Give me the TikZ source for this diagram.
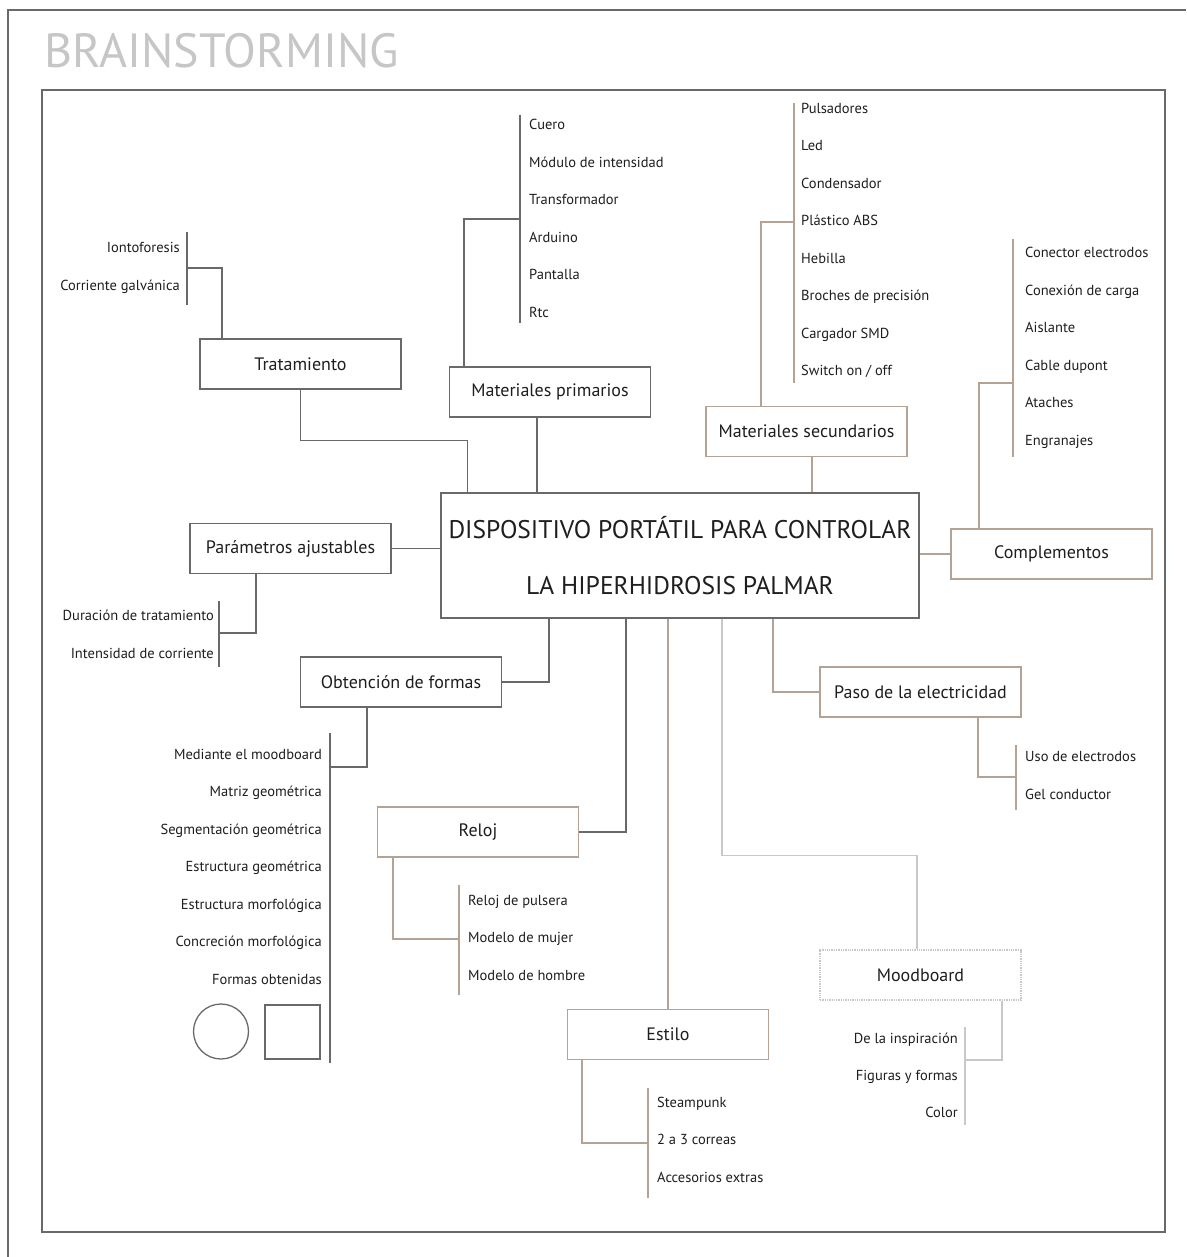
\documentclass[tikz,border=0pt]{standalone}
\usepackage{fontspec}
\setmainfont{PT Sans}
\usepackage{tikz}
\usetikzlibrary{calc}
\definecolor{gris}{RGB}{105,105,105}
\definecolor{beige}{RGB}{180,162,148}
\definecolor{claro}{RGB}{200,200,200}
\definecolor{tinta}{RGB}{30,30,30}
\tikzset{
  caja/.style={draw=gris, line width=1.3pt, minimum width=201pt, minimum height=50pt,
    inner sep=0pt, text=tinta, font=\fontsize{18}{20}\selectfont},
  item/.style={inner sep=0pt, text=tinta, text height=11pt, text depth=3.5pt, font=\fontsize{14.5}{16}\selectfont},
  rama/.style={draw=gris, line width=1.3pt},
  barra/.style={draw=gris, line width=1.3pt},
}

\begin{document}
\begin{tikzpicture}[x=1pt, y=-1pt]
		\useasboundingbox (0,0) rectangle (1186,1257);

		% marcos
		\draw[gris, line width=1.5pt] (8,1257) -- (8,10) -- (1186,10);
		\draw[gris, line width=2pt] (42,90) rectangle (1165,1232);
		\node[anchor=base west, inner sep=0pt, text=gray!45, font=\fontsize{48}{50}\selectfont] (titulo) at (44,68) {BRAINSTORMING};

		% centro
		\node[caja, minimum width=478pt, minimum height=125pt, align=center,
			font=\fontsize{25.5}{56}\selectfont] (centro) at (680,555.5)
			{DISPOSITIVO PORTÁTIL PARA CONTROLAR\\LA HIPERHIDROSIS PALMAR};

		% ramas
		\node[caja] (trat) at (300.5,364) {Tratamiento};
		\node[caja] (matp) at (550,392) {Materiales primarios};
		\node[caja, draw=beige] (mats) at (806.5,431.5) {Materiales secundarios};
		\node[caja, draw=beige] (compl) at (1051.5,554) {Complementos};
		\node[caja] (param) at (290.5,548.5) {Parámetros ajustables};
		\node[caja] (obt) at (401,682) {Obtención de formas};
		\node[caja, draw=beige] (reloj) at (478,832) {Reloj};
		\node[caja, draw=beige] (estilo) at (668,1034.5) {Estilo};
		\node[caja, draw=claro, densely dotted] (mood) at (920.5,975) {Moodboard};
		\node[caja, draw=beige] (paso) at (920.5,692) {Paso de la electricidad};

		\draw[rama] (trat.south) -- ++(0,51) -| ([xshift=27pt]centro.north west);
		\draw[rama] ([xshift=-13pt]matp.south) -- ([xshift=-13pt]matp.south |- centro.north);
		\draw[rama, beige] ([xshift=5.5pt]mats.south) -- ([xshift=5.5pt]mats.south |- centro.north);
		\draw[rama, beige] (centro.east |- compl.west) -- (compl.west);
		\draw[rama] (param.east) -- (param.east -| centro.west);
		\draw[rama] (obt.east) -| ([xshift=-131pt]centro.south);
		\draw[rama] (reloj.east) -| ([xshift=-54pt]centro.south);
		\draw[rama, beige] (estilo.north) -- (estilo.north |- centro.south);
		\draw[rama, claro] ([xshift=42pt]centro.south) |- ([xshift=-3.5pt,yshift=94pt]mood.north) -- ([xshift=-3.5pt]mood.north);
		\draw[rama, beige] ([xshift=93pt]centro.south) |- (paso.west);

		% Tratamiento
		\draw[barra] (187,232) -- (187,305);
		\coordinate (jTrat) at (187,268);
		\draw[rama] ([xshift=-78.5pt]trat.north) |- (jTrat);
		\node[item, anchor=east] (ionto) at (180,249) {Iontoforesis};
		\node[item, anchor=east] (galv) at (180,287) {Corriente galvánica};

		% Materiales primarios
		\draw[barra] (520,115) -- (520,323);
		\coordinate (jMatp) at (520,219);
		\draw[rama] ([xshift=-86pt]matp.north) |- (jMatp);
		\node[item, anchor=west] (cuero) at (529,126) {Cuero};
		\node[item, anchor=west] (modulo) at (529,164) {Módulo de intensidad};
		\node[item, anchor=west] (trafo) at (529,201) {Transformador};
		\node[item, anchor=west] (ardu) at (529,239) {Arduino};
		\node[item, anchor=west] (pant) at (529,276) {Pantalla};
		\node[item, anchor=west] (rtc) at (529,314) {Rtc};

		% Materiales secundarios
		\draw[barra, beige] (794,103) -- (794,383);
		\coordinate (jMats) at (794,222);
		\draw[rama, beige] ([xshift=-45.5pt]mats.north) |- (jMats);
		\node[item, anchor=west] (puls) at (801,110) {Pulsadores};
		\node[item, anchor=west] (led) at (801,147) {Led};
		\node[item, anchor=west] (cond) at (801,185) {Condensador};
		\node[item, anchor=west] (abs) at (801,222) {Plástico ABS};
		\node[item, anchor=west] (hebi) at (801,260) {Hebilla};
		\node[item, anchor=west] (broch) at (801,297) {Broches de precisión};
		\node[item, anchor=west] (carg) at (801,335) {Cargador SMD};
		\node[item, anchor=west] (switch) at (801,372) {Switch on / off};

		% Complementos
		\draw[barra, beige] (1013,239) -- (1013,457);
		\coordinate (jCompl) at (1013,383);
		\draw[rama, beige] ([xshift=-72.5pt]compl.north) |- (jCompl);
		\node[item, anchor=west] (conec) at (1025,254) {Conector electrodos};
		\node[item, anchor=west] (carga) at (1025,292) {Conexión de carga};
		\node[item, anchor=west] (aisl) at (1025,329) {Aislante};
		\node[item, anchor=west] (dupont) at (1025,367) {Cable dupont};
		\node[item, anchor=west] (atach) at (1025,404) {Ataches};
		\node[item, anchor=west] (engr) at (1025,442) {Engranajes};

		% Parametros ajustables
		\draw[barra] (219,601) -- (219,667);
		\coordinate (jParam) at (219,633);
		\draw[rama] ([xshift=-34.5pt]param.south) |- (jParam);
		\node[item, anchor=east] (durac) at (214,617) {Duración de tratamiento};
		\node[item, anchor=east] (inten) at (214,655) {Intensidad de corriente};

		% Obtencion de formas
		\draw[barra] (330,733) -- (330,1063);
		\coordinate (jObt) at (330,767);
		\draw[rama] ([xshift=-34pt]obt.south) |- (jObt);
		\node[item, anchor=east] (mediante) at (322,756) {Mediante el moodboard};
		\node[item, anchor=east] (matriz) at (322,793) {Matriz geométrica};
		\node[item, anchor=east] (segm) at (322,831) {Segmentación geométrica};
		\node[item, anchor=east] (estrg) at (322,868) {Estructura geométrica};
		\node[item, anchor=east] (estrm) at (322,906) {Estructura morfológica};
		\node[item, anchor=east] (concr) at (322,943) {Concreción morfológica};
		\node[item, anchor=east] (formas) at (322,981) {Formas obtenidas};
		\draw[gris, line width=1.3pt] (221,1031.5) circle (27.5pt);
		\draw[gris, line width=1.3pt] (265,1005) rectangle (320,1059);

		% Reloj
		\draw[barra, beige] (459,885) -- (459,995);
		\coordinate (jReloj) at (459,939);
		\draw[rama, beige] ([xshift=-85pt]reloj.south) |- (jReloj);
		\node[item, anchor=west] (pulsera) at (468,902) {Reloj de pulsera};
		\node[item, anchor=west] (mujer) at (468,939) {Modelo de mujer};
		\node[item, anchor=west] (hombre) at (468,977) {Modelo de hombre};

		% Estilo
		\draw[barra, beige] (648,1088) -- (648,1198);
		\coordinate (jEstilo) at (648,1143);
		\draw[rama, beige] ([xshift=-86pt]estilo.south) |- (jEstilo);
		\node[item, anchor=west] (steam) at (657,1104) {Steampunk};
		\node[item, anchor=west] (correas) at (657,1141) {2 a 3 correas};
		\node[item, anchor=west] (acces) at (657,1179) {Accesorios extras};

		% Moodboard
		\draw[barra, claro] (965,1027) -- (965,1125);
		\coordinate (jMood) at (965,1060);
		\draw[rama, claro] ([xshift=81.5pt]mood.south) |- (jMood);
		\node[item, anchor=east] (inspi) at (958,1040) {De la inspiración};
		\node[item, anchor=east] (figuras) at (958,1077) {Figuras y formas};
		\node[item, anchor=east] (color) at (958,1114) {Color};

		% Paso de la electricidad
		\draw[barra, beige] (1016,745) -- (1016,810);
		\coordinate (jPaso) at (1016,777);
		\draw[rama, beige] ([xshift=57.5pt]paso.south) |- (jPaso);
		\node[item, anchor=west] (electr) at (1025,758) {Uso de electrodos};
		\node[item, anchor=west] (gel) at (1025,796) {Gel conductor};
	\end{tikzpicture}
\end{document}
